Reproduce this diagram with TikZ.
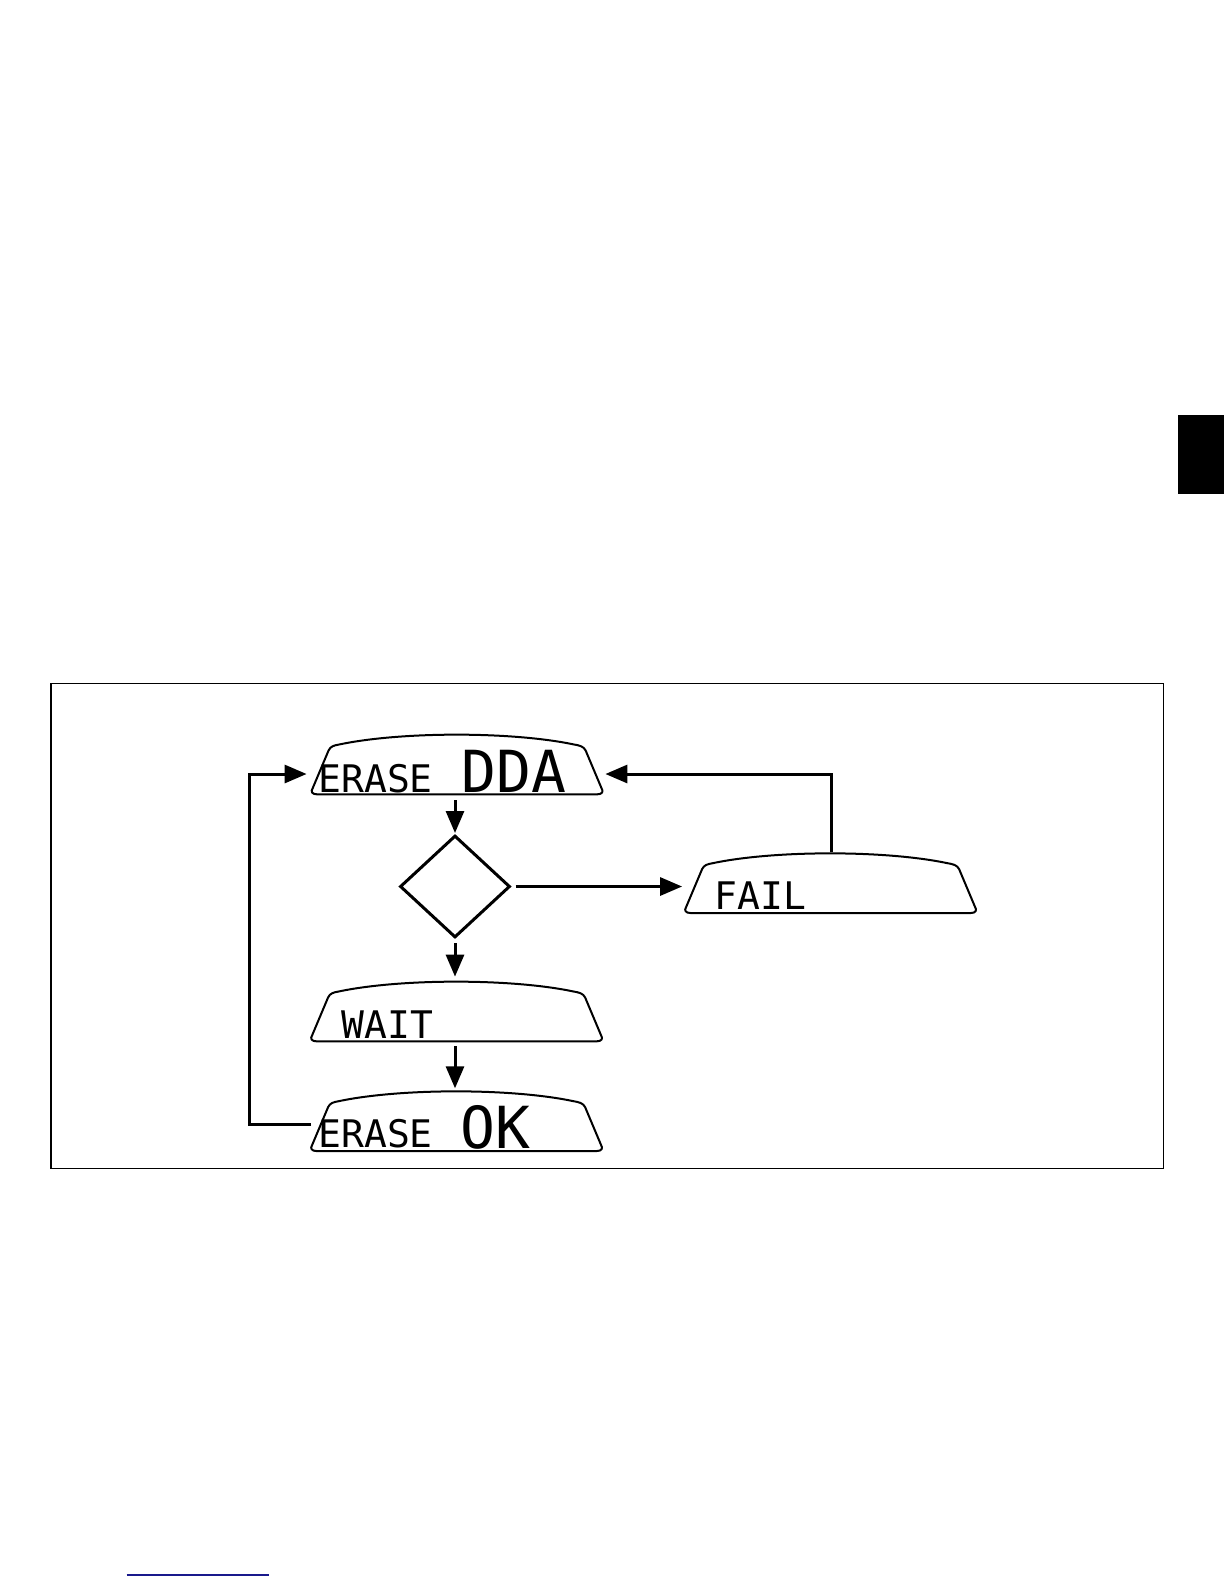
\documentclass[tikz,border=0pt]{standalone}
\usepackage{fontspec}
\newfontfamily\lcdfont{DejaVu Sans Mono}
\usetikzlibrary{arrows.meta,shapes.geometric}
\definecolor{linkblue}{RGB}{25,25,140}
\newcommand\lcdoutline[1]{%
  \begin{scope}[shift={(#1.south west)}]
    \draw[lcdline] (6,0) -- (285,0) .. controls (291,0) and (292,-3) .. (290,-6)
      -- (274,-44) .. controls (272,-48) and (268,-49) .. (262,-50)
      .. controls (200,-63) and (90,-63) .. (28,-50)
      .. controls (22,-49) and (19,-48) .. (17,-44)
      -- (1,-6) .. controls (-1,-3) and (0,0) .. (6,0) -- cycle;
  \end{scope}}
\begin{document}
\begin{tikzpicture}[x=0.5pt,y=-0.5pt,
  conn/.style={line width=1.5pt,-{Triangle[length=11pt,width=9pt]}},
  lcdline/.style={line width=1pt,line join=round},
  lcd/.style={rectangle,minimum width=145.5pt,minimum height=30pt,inner sep=0pt},
  lcdsmall/.style={font=\lcdfont\fontsize{19}{19}\selectfont,inner sep=0pt,anchor=base west},
  lcdbig/.style={font=\lcdfont\fontsize{29}{29}\selectfont,inner sep=0pt,anchor=base west},
  decision/.style={diamond,draw,line width=1.5pt,minimum width=55pt,minimum height=51pt,inner sep=0pt}]
\useasboundingbox (0,0) rectangle (1224,1584);
% page marks
\fill (1177.7,415) rectangle (1224,494.3);
\draw[linkblue,line width=1pt] (126.7,1575) -- (269,1575);
% frame
\draw[line width=0.8pt] (50.7,683.3) rectangle (1163.3,1168.3);
% displays
\node[lcd] (A) at (457.5,764) {};
\node[lcd] (F) at (831,882.7) {};
\node[lcd] (W) at (457,1011) {};
\node[lcd] (K) at (457,1120.7) {};
\lcdoutline{A}
\lcdoutline{F}
\lcdoutline{W}
\lcdoutline{K}
\node[lcdsmall] (A1) at (318,792) {ERASE};
\node[lcdbig] (A2) at (461,792) {DDA};
\node[lcdsmall] (F1) at (714,909) {FAIL};
\node[lcdsmall] (W1) at (341,1038) {WAIT};
\node[lcdsmall] (K1) at (318,1147) {ERASE};
\node[lcdbig] (K2) at (460,1148) {OK};
% decision
\node[decision] (D) at (455,886.5) {};
% connectors
\draw[conn] ([yshift=-3pt]D.north |- A.south) -- ([yshift=0.5pt]D.north);
\draw[conn] ([yshift=-2pt]D.south) -- ([yshift=2pt]D.south |- W.north);
\draw[conn] ([yshift=-2.5pt]D.south |- W.south) -- ([yshift=1pt]D.south |- K.north);
\draw[conn] ([xshift=2pt]D.east) -- ([xshift=-1.5pt]D.east -| F.west);
\draw[conn] (F.north) |- ([shift={(1pt,-5pt)}]A.east);
\draw[conn] ([yshift=-2pt]K.west) -- ++(-31pt,0) |- ([shift={(-2.5pt,-5pt)}]A.west);
\end{tikzpicture}
\end{document}
